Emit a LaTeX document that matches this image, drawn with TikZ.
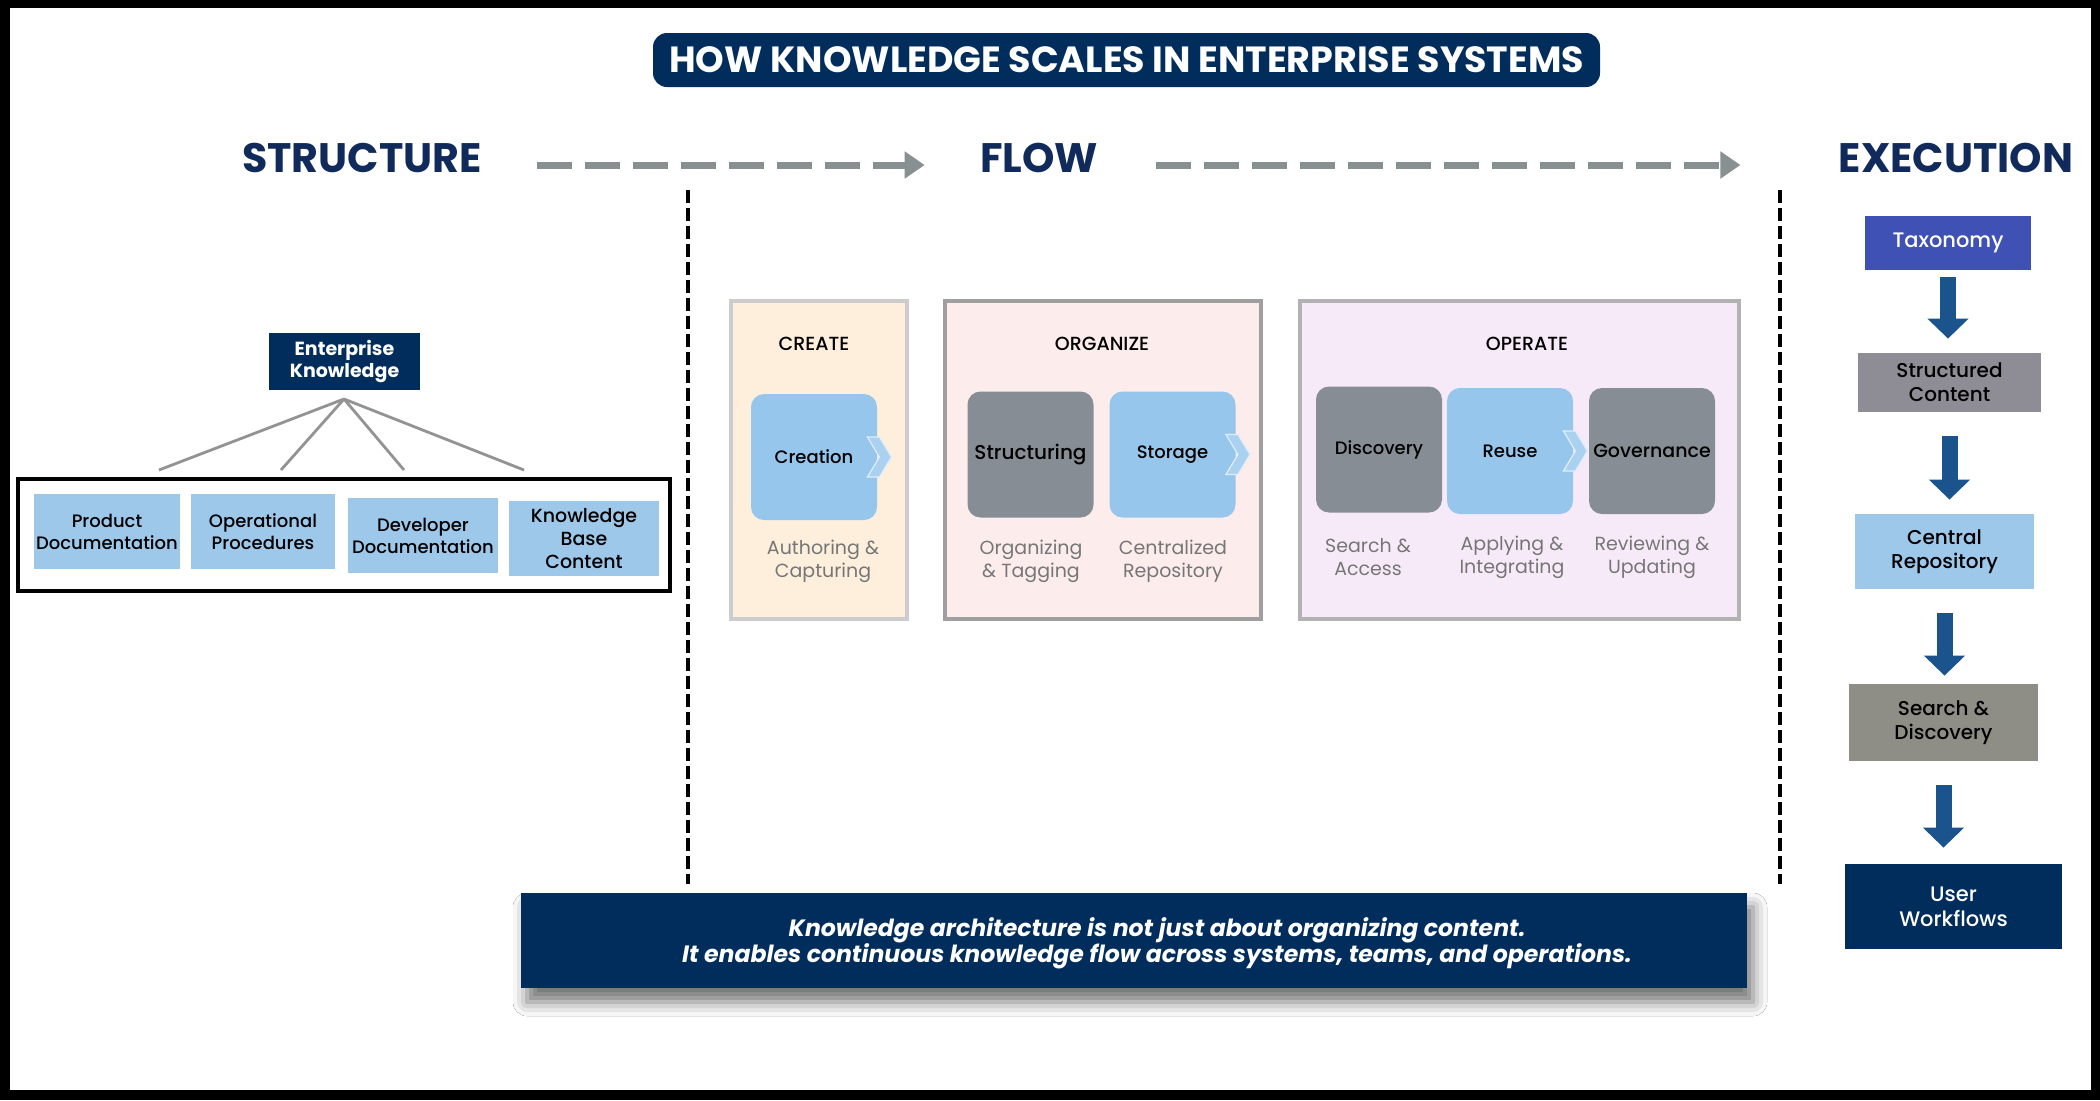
\documentclass[tikz,border=0pt]{standalone}
\usepackage{fontspec}
\setmainfont{Poppins}
\newfontfamily\medfont{Poppins Medium}
\usepackage{tikz}
\usetikzlibrary{arrows.meta, positioning, fit, calc, shadows.blur}

\definecolor{navy}{RGB}{0,45,91}
\definecolor{headnavy}{RGB}{16,42,92}
\definecolor{docblue}{RGB}{157,200,234}
\definecolor{tileblue}{RGB}{150,198,236}
\definecolor{tilegray}{RGB}{134,141,148}
\definecolor{createfill}{RGB}{253,239,220}
\definecolor{organizefill}{RGB}{253,236,236}
\definecolor{operatefill}{RGB}{247,234,248}
\definecolor{taxblue}{RGB}{63,81,181}
\definecolor{scgray}{RGB}{142,140,148}
\definecolor{sdgray}{RGB}{142,142,134}
\definecolor{arrowblue}{RGB}{27,84,140}
\definecolor{dashgray}{RGB}{136,144,145}
\definecolor{captiongray}{RGB}{118,118,118}

% chevron sitting on the right edge of a stage tile
\newcommand{\stagechevron}[1]{%
  \fill[tileblue!80!white, draw=white!70!tileblue, line width=0.6pt]
    (#1.east) ++(-10,-20) -- ++(12,0) -- ++(12,20) -- ++(-12,20) -- ++(-12,0) -- ++(12,-20) -- cycle;}

\begin{document}
\begin{tikzpicture}[
    x=0.5pt, y=-0.5pt,
    font=\medfont\fontsize{9}{11}\selectfont,
    title/.style={fill=navy, text=white, rounded corners=7pt, minimum width=473.5pt, minimum height=27pt, font=\bfseries\fontsize{18.2}{20}\selectfont},
    heading/.style={text=headnavy, inner sep=0pt, font=\bfseries\fontsize{20.6}{22}\selectfont},
    ekbox/.style={fill=navy, text=white, align=center, minimum width=75.5pt, minimum height=28.5pt, inner sep=2pt, font=\bfseries\fontsize{9.5}{11}\selectfont},
    docbox/.style={fill=docblue, align=center, minimum width=75pt, minimum height=37.5pt, inner sep=1pt},
    group/.style={draw=black, line width=2pt, inner sep=7.5pt, inner xsep=6.5pt},
    branch/.style={draw=gray!85, line width=1.4pt},
    panel/.style={line width=1.6pt, minimum height=159pt},
    phase/.style={font=\medfont\fontsize{9.5}{11}\selectfont},
    tile/.style={rounded corners=6.5pt, minimum width=63pt, minimum height=63pt, inner sep=0pt},
    caption/.style={text=captiongray, align=center, font=\fontsize{9.5}{11.5}\selectfont},
    execbox/.style={align=center, inner sep=1pt, font=\medfont\fontsize{10}{12}\selectfont},
    flowarrow/.style={draw=dashgray, line width=3.5pt, dash pattern=on 17.5pt off 6.5pt, -{Triangle[width=13pt, length=10pt]}},
    downarrow/.style={draw=arrowblue, line width=8pt, -{Triangle[width=20pt, length=10pt]}, shorten <=12pt, shorten >=6pt},
    divider/.style={draw=black, line width=2pt, dash pattern=on 6.5pt off 2.5pt},
    banner/.style={fill=navy, minimum width=613pt, minimum height=47.5pt, blur shadow={shadow xshift=3pt, shadow yshift=-7pt, shadow blur radius=7pt, shadow opacity=55}},
    bannertext/.style={text=white, align=center, font=\bfseries\itshape\fontsize{11.8}{13}\selectfont}
]

% Frame
\fill[black] (0,0) rectangle (2100,1100);
\fill[white] (10,8) rectangle (2091,1090);
\useasboundingbox (0,0) rectangle (2100,1100);

% Title and headings
\node[title] (title) at (1126.5,60) {HOW KNOWLEDGE SCALES IN ENTERPRISE SYSTEMS};

\node[heading] (structure) at (362,158) {STRUCTURE};
\node[heading] (flow) at (1039,158) {FLOW};
\node[heading] (execution) at (1956,158) {EXECUTION};

\draw[flowarrow, shorten <=27.5pt, shorten >=27.5pt] ([yshift=-3.5pt]structure.east) -- ([yshift=-3.5pt]flow.west);
\draw[flowarrow, shorten <=29pt, shorten >=49pt] ([yshift=-3.5pt]flow.east) -- ([yshift=-3.5pt]execution.west);

% Dividers
\draw[divider] (688,190) -- (688,884);
\draw[divider] (1780,190) -- (1780,884);

% Structure side
\node[ekbox] (ek) at (344.5,361.5) {Enterprise\\Knowledge};
\node[docbox, minimum width=72pt] (pd) at (107,531.5) {Product\\Documentation};
\node[docbox, minimum width=72pt] (op) at (263,531.5) {Operational\\Procedures};
\node[docbox] (dd) at (423,535.5) {Developer\\Documentation};
\node[docbox, font=\medfont\fontsize{9.5}{11.5}\selectfont] (kb) at (584,538.5) {Knowledge\\Base\\Content};
\node[group, fit=(pd) (op) (dd) (kb), xshift=-1.25pt] (docs) {};

\coordinate (hub) at (344,399);
\foreach \x [count=\i] in {159,281,404,524}
  \coordinate (leg\i) at (\x,470);
\foreach \i in {1,...,4}
  \draw[branch] (hub) -- (leg\i);

% Flow side
\node[panel, fill=createfill, draw=gray!40, minimum width=88pt] (createpanel) at (819,460) {};
\node[panel, fill=organizefill, draw=gray!75, minimum width=158pt] (organizepanel) at (1103,460) {};
\node[panel, fill=operatefill, draw=gray!60, minimum width=219.5pt] (operatepanel) at (1519.5,460) {};

\node[phase] (createlbl) at (814,344) {CREATE};
\node[phase] (organizelbl) at (1102,344) {ORGANIZE};
\node[phase] (operatelbl) at (1527,344) {OPERATE};

\node[tile, fill=tileblue] (creation) at (814,457) {Creation};
\node[tile, fill=tilegray, font=\medfont\fontsize{10}{12}\selectfont] (structuring) at (1030.5,454.5) {Structuring};
\node[tile, fill=tileblue] (storage) at (1172.5,454.5) {Storage};
\node[tile, fill=tilegray] (discovery) at (1379,449.5) {Discovery};
\node[tile, fill=tileblue] (reuse) at (1510,451) {Reuse};
\node[tile, fill=tilegray, font=\medfont\fontsize{9.5}{11}\selectfont] (governance) at (1652,451) {Governance};

\stagechevron{creation}
\stagechevron{storage}
\stagechevron{reuse}

\node[caption] (authoring) at (823,561) {Authoring \&\\Capturing};
\node[caption] (tagging) at (1031,561) {Organizing\\\& Tagging};
\node[caption] (centralized) at (1173,561) {Centralized\\Repository};
\node[caption] (access) at (1368,557) {Search \&\\Access};
\node[caption] (applying) at (1512,557) {Applying \&\\Integrating};
\node[caption] (reviewing) at (1652,557) {Reviewing \&\\Updating};

% Execution side
\node[execbox, fill=taxblue, text=white, minimum width=83pt, minimum height=27pt, font=\medfont\fontsize{10.5}{12}\selectfont] (tax) at (1948,243) {Taxonomy};
\node[execbox, fill=scgray, minimum width=91.5pt, minimum height=29.5pt] (sc) at (1949.5,382.5) {Structured\\Content};
\node[execbox, fill=docblue, minimum width=89.5pt, minimum height=37.5pt] (cr) at (1944.5,551.5) {Central\\Repository};
\node[execbox, fill=sdgray, minimum width=94.5pt, minimum height=38.5pt] (sd) at (1943.5,722.5) {Search \&\\Discovery};
\node[execbox, fill=navy, text=white, minimum width=108.5pt, minimum height=42.5pt, font=\medfont\fontsize{10.5}{12.5}\selectfont] (uw) at (1953.5,906.5) {User\\Workflows};

\draw[downarrow, shorten <=3.5pt, shorten >=7pt] (tax.south) -- (tax.south |- sc.north);
\draw[downarrow, shorten >=7pt] (sc.south) -- (sc.south |- cr.north);
\draw[downarrow, shorten >=4pt] (cr.south) -- (cr.south |- sd.north);
\draw[downarrow, shorten >=8pt] (sd.south) -- (sd.south |- uw.north);

% Banner
\node[banner] (note) at (1134,940.5) {};
\node[bannertext] (notetext) at (1157,943) {Knowledge architecture is not just about organizing content.\\It enables continuous knowledge flow across systems, teams, and operations.};

\end{tikzpicture}
\end{document}
